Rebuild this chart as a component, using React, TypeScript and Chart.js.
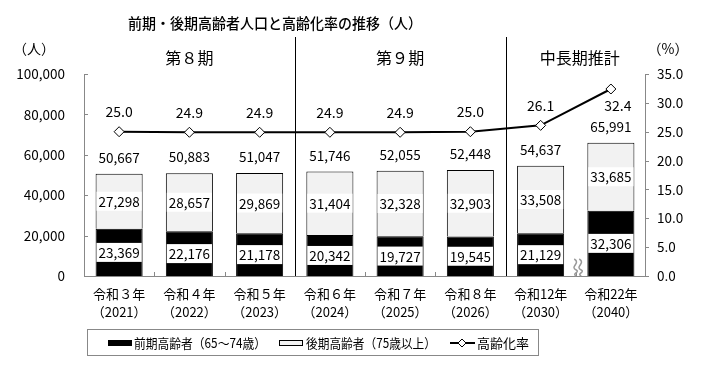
import React, { useEffect, useRef } from "react";
import { Chart, registerables } from "chart.js";

Chart.register(...registerables);

const FONT = "'Noto Sans CJK JP', 'Noto Sans', sans-serif";

const yearLabels = ["令和３年", "令和４年", "令和５年", "令和６年", "令和７年", "令和８年", "令和12年", "令和22年"];
const westernYears = ["（2021）", "（2022）", "（2023）", "（2024）", "（2025）", "（2026）", "（2030）", "（2040）"];
const earlyElderly = [23369, 22176, 21178, 20342, 19727, 19545, 21129, 32306];
const lateElderly = [27298, 28657, 29869, 31404, 32328, 32903, 33508, 33685];
const totals = [50667, 50883, 51047, 51746, 52055, 52448, 54637, 65991];
const agingRate = [25.0, 24.9, 24.9, 24.9, 24.9, 25.0, 26.1, 32.4];
const periodLabels = ["第８期", "第９期", "中長期推計"];
const periodRanges = [[0, 2], [3, 5], [6, 7]];
const dividerAfter = [2, 5];
const legendLabels = ["前期高齢者（65～74歳）", "後期高齢者（75歳以上）", "高齢化率"];
const titleText = "前期・後期高齢者人口と高齢化率の推移（人）";

const fmt = (v: number) => v.toLocaleString("en-US");

const decorPlugin = {
  id: "decor",
  afterDatasetsDraw(chart: any) {
    const { ctx, chartArea } = chart;
    const xs = chart.scales.x;
    const L = chartArea.left, R = chartArea.right, T = chartArea.top, B = chartArea.bottom;
    ctx.save();
    // axes
    ctx.strokeStyle = "#888";
    ctx.lineWidth = 1;
    ctx.beginPath();
    ctx.moveTo(L + 0.5, T); ctx.lineTo(L + 0.5, B + 0.5);
    ctx.moveTo(R - 0.5, T); ctx.lineTo(R - 0.5, B + 0.5);
    ctx.moveTo(L, B + 0.5); ctx.lineTo(R, B + 0.5);
    const yl = chart.scales.y, yr = chart.scales.y1;
    yl.ticks.forEach((t: any) => {
      const py = Math.round(yl.getPixelForValue(t.value)) + 0.5;
      ctx.moveTo(L, py); ctx.lineTo(L + 4, py);
    });
    yr.ticks.forEach((t: any) => {
      const py = Math.round(yr.getPixelForValue(t.value)) + 0.5;
      ctx.moveTo(R - 1, py); ctx.lineTo(R + 3, py);
    });
    const step = (R - L) / yearLabels.length;
    for (let i = 1; i < yearLabels.length; i++) {
      const px = Math.round(L + step * i) + 0.5;
      ctx.moveTo(px, B); ctx.lineTo(px, B - 4);
    }
    ctx.stroke();

    // dividers
    ctx.strokeStyle = "#000";
    ctx.beginPath();
    dividerAfter.forEach((i) => {
      const px = Math.round((xs.getPixelForValue(i) + xs.getPixelForValue(i + 1)) / 2) + 0.5;
      ctx.moveTo(px, 37); ctx.lineTo(px, B);
    });
    ctx.stroke();

    // labels
    const m0 = chart.getDatasetMeta(0), m1 = chart.getDatasetMeta(1), m2 = chart.getDatasetMeta(2);
    ctx.font = `13.5px ${FONT}`;
    ctx.textAlign = "center";
    ctx.textBaseline = "middle";
    const boxed = (text: string, x: number, y: number) => {
      const w = ctx.measureText(text).width + 4;
      ctx.fillStyle = "#fff";
      ctx.fillRect(x - w / 2, y - 9.5, w, 19);
      ctx.fillStyle = "#000";
      ctx.fillText(text, x, y + 0.5);
    };
    for (let i = 0; i < yearLabels.length; i++) {
      const e0 = m0.data[i], e1 = m1.data[i];
      boxed(fmt(earlyElderly[i]), e0.x, (e0.y + e0.base) / 2);
      boxed(fmt(lateElderly[i]), e1.x, (e1.y + e1.base) / 2);
      ctx.fillStyle = "#000";
      ctx.fillText(fmt(totals[i]), e1.x, e1.y - 16);
      const p = m2.data[i];
      ctx.font = `14px ${FONT}`;
      if (i === yearLabels.length - 1) ctx.fillText(agingRate[i].toFixed(1), p.x + 7, p.y + 17);
      else ctx.fillText(agingRate[i].toFixed(1), p.x, p.y - 20);
      ctx.font = `13.5px ${FONT}`;
    }

    // period labels
    ctx.font = `16px ${FONT}`;
    periodLabels.forEach((t, k) => {
      const [a, b] = periodRanges[k];
      const cx = (xs.getPixelForValue(a) + xs.getPixelForValue(b)) / 2;
      ctx.fillText(t, k === 2 ? cx + 4 : cx, 58);
    });
    ctx.font = `14px ${FONT}`;
    ctx.fillText("（人）", 34, 49);
    ctx.fillText("（%）", 668, 49);

    // title
    ctx.font = `500 14.5px ${FONT}`;
    ctx.fillText(titleText, 275, 23, 294);

    // break mark
    const bx = (xs.getPixelForValue(6) + xs.getPixelForValue(7)) / 2 + 2, by = 267;
    ctx.strokeStyle = "#999";
    ctx.lineWidth = 1.5;
    [-2.5, 2.5].forEach((dx) => {
      ctx.beginPath();
      ctx.moveTo(bx + dx - 1, by - 8);
      ctx.bezierCurveTo(bx + dx + 6, by - 4, bx + dx - 6, by + 0, bx + dx + 1, by + 3);
      ctx.bezierCurveTo(bx + dx + 5, by + 5, bx + dx - 4, by + 7, bx + dx + 1, by + 9);
      ctx.stroke();
    });

    // legend
    ctx.lineWidth = 1;
    ctx.strokeStyle = "#888";
    ctx.strokeRect(87.5, 329.5, 451, 26);
    ctx.fillStyle = "#000";
    ctx.fillRect(108, 340, 24, 6);
    ctx.fillStyle = "#f2f2f2";
    ctx.fillRect(279, 340, 24, 6);
    ctx.strokeStyle = "#000";
    ctx.strokeRect(279.5, 340.5, 23, 5);
    ctx.lineWidth = 2;
    ctx.beginPath();
    ctx.moveTo(450, 343); ctx.lineTo(475, 343);
    ctx.stroke();
    ctx.lineWidth = 1;
    ctx.fillStyle = "#fff";
    ctx.beginPath();
    ctx.moveTo(462, 339); ctx.lineTo(466, 343); ctx.lineTo(462, 347); ctx.lineTo(458, 343); ctx.closePath();
    ctx.fill(); ctx.stroke();
    ctx.fillStyle = "#000";
    ctx.font = `13px ${FONT}`;
    ctx.textAlign = "left";
    ctx.fillText(legendLabels[0], 134, 343, 132);
    ctx.fillText(legendLabels[1], 306, 343, 130);
    ctx.fillText(legendLabels[2], 477, 343, 52);
    ctx.restore();
  },
};

export default function App() {
  const ref = useRef<HTMLCanvasElement>(null);
  useEffect(() => {
    if (!ref.current) return;
    const chart = new Chart(ref.current, {
      type: "bar",
      data: {
        labels: yearLabels.map((y, i) => [y, westernYears[i]]),
        datasets: [
          {
            type: "bar",
            label: legendLabels[0],
            data: earlyElderly,
            backgroundColor: "#000",
            borderColor: "#000",
            borderWidth: 1,
            yAxisID: "y",
            stack: "s",
            order: 1,
            barPercentage: 0.67,
            categoryPercentage: 1,
          },
          {
            type: "bar",
            label: legendLabels[1],
            data: lateElderly,
            backgroundColor: "#f2f2f2",
            borderColor: "#000",
            borderWidth: 1,
            yAxisID: "y",
            stack: "s",
            order: 1,
            barPercentage: 0.67,
            categoryPercentage: 1,
          },
          {
            type: "line",
            label: legendLabels[2],
            data: agingRate,
            borderColor: "#000",
            borderWidth: 2,
            pointStyle: "rectRot",
            pointRadius: 5,
            pointBackgroundColor: "#fff",
            pointBorderColor: "#000",
            pointBorderWidth: 1,
            yAxisID: "y1",
            order: 0,
          },
        ],
      } as any,
      options: {
        responsive: false,
        animation: false,
        layout: { padding: { top: 74, left: 0, right: 0, bottom: 0 } },
        plugins: { legend: { display: false }, title: { display: false }, tooltip: { enabled: false } },
        scales: {
          x: {
            stacked: true,
            offset: true,
            grid: { display: false, drawTicks: false },
            border: { display: false },
            ticks: {
              autoSkip: false,
              maxRotation: 0,
              padding: 9,
              color: "#000",
              font: { family: FONT, size: 13, lineHeight: "18px" } as any,
            },
            afterFit: (s: any) => { s.height = 89; },
          },
          y: {
            stacked: true,
            position: "left",
            min: 0,
            max: 100000,
            grid: { display: false, drawTicks: false },
            border: { display: false },
            ticks: {
              stepSize: 20000,
              padding: 19,
              color: "#000",
              font: { family: FONT, size: 13.5 },
              callback: (v: any) => fmt(Number(v)),
            },
            afterFit: (s: any) => { s.width = 84; },
          },
          y1: {
            position: "right",
            min: 0,
            max: 35,
            grid: { display: false, drawTicks: false },
            border: { display: false },
            ticks: {
              stepSize: 5,
              padding: 11,
              color: "#000",
              font: { family: FONT, size: 13.5 },
              callback: (v: any) => Number(v).toFixed(1),
            },
            afterFit: (s: any) => { s.width = 63; },
          },
        },
      },
      plugins: [decorPlugin],
    });
    return () => chart.destroy();
  }, []);
  return (
    <div style={{ position: "absolute", left: 0, top: 0, width: 709, height: 365, background: "#fff" }}>
      <canvas ref={ref} width={709} height={365} />
    </div>
  );
}
